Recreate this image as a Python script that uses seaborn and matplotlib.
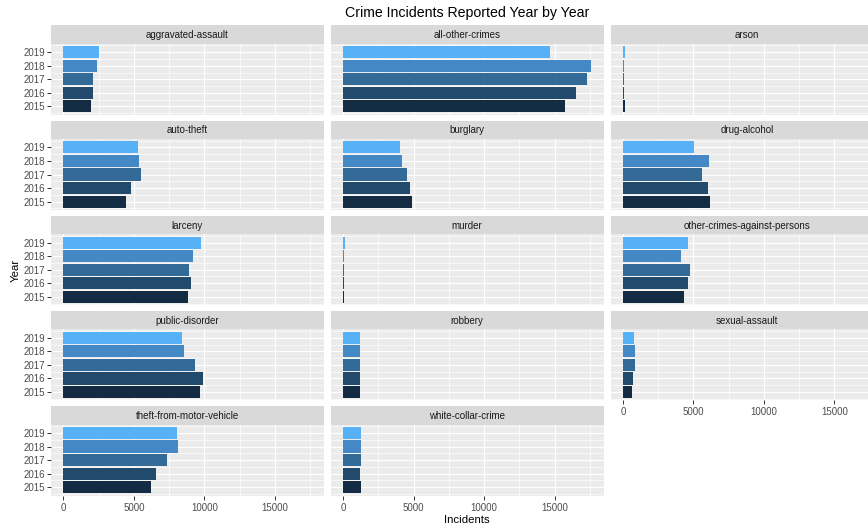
import matplotlib
matplotlib.use("Agg")
import matplotlib.pyplot as plt
import seaborn as sns
import pandas as pd
from matplotlib.ticker import FixedLocator

years = [2015, 2016, 2017, 2018, 2019]
categories = [
    "aggravated-assault", "all-other-crimes", "arson",
    "auto-theft", "burglary", "drug-alcohol",
    "larceny", "murder", "other-crimes-against-persons",
    "public-disorder", "robbery", "sexual-assault",
    "theft-from-motor-vehicle", "white-collar-crime",
]
aggravated_assault = [1940, 2130, 2080, 2390, 2500]
all_other_crimes = [15710, 16490, 17270, 17600, 14690]
arson = [130, 60, 100, 100, 120]
auto_theft = [4470, 4800, 5500, 5360, 5290]
burglary = [4860, 4710, 4500, 4170, 4050]
drug_alcohol = [6150, 6030, 5630, 6100, 5030]
larceny = [8840, 9060, 8940, 9220, 9790]
murder = [60, 70, 80, 80, 120]
other_crimes_against_persons = [4350, 4630, 4770, 4090, 4630]
public_disorder = [9720, 9880, 9310, 8530, 8390]
robbery = [1230, 1190, 1230, 1230, 1190]
sexual_assault = [650, 720, 840, 840, 770]
theft_from_motor_vehicle = [6210, 6550, 7350, 8130, 8060]
white_collar_crime = [1260, 1230, 1280, 1260, 1300]

series = [aggravated_assault, all_other_crimes, arson, auto_theft, burglary,
          drug_alcohol, larceny, murder, other_crimes_against_persons,
          public_disorder, robbery, sexual_assault, theft_from_motor_vehicle,
          white_collar_crime]

rows = []
for cat, vals in zip(categories, series):
    for y, v in zip(years, vals):
        rows.append({"Category": cat, "Year": y, "Incidents": v})
df = pd.DataFrame(rows)

year_colors = {2015: "#132B43", 2016: "#224A6D", 2017: "#336A98", 2018: "#4489C6", 2019: "#56B1F7"}

sns.set_theme(style="white")
plt.rcParams["font.family"] = ["Liberation Sans", "DejaVu Sans"]

W, H = 868, 529
fig = plt.figure(figsize=(W / 100, H / 100), dpi=100)

col_left = [51, 330.7, 610.5]
panel_w = 273
strip_h = 18.5
panel_h = 71
row_pitch = 95.2
top0 = 25.3

M = df["Incidents"].max()
xlo, xhi = -0.05 * M, 1.05 * M
ylo, yhi = 2014.38, 2019.62

n = len(categories)
for i, cat in enumerate(categories):
    r, c = divmod(i, 3)
    st = top0 + row_pitch * r
    pt = st + strip_h
    ax = fig.add_axes([col_left[c] / W, 1 - (pt + panel_h) / H, panel_w / W, panel_h / H])
    sax = fig.add_axes([col_left[c] / W, 1 - (st + strip_h) / H, panel_w / W, strip_h / H])
    sax.set_facecolor("#D9D9D9")
    sax.set_xticks([]); sax.set_yticks([])
    for s in sax.spines.values():
        s.set_visible(False)
    sax.text(0.5, 0.47, cat, ha="center", va="center", fontsize=7, color="#1A1A1A",
             transform=sax.transAxes)

    sub = df[df["Category"] == cat]
    ax.set_facecolor("#EBEBEB")
    ax.set_axisbelow(True)
    sns.barplot(data=sub, x="Incidents", y="Year", hue="Year", palette=year_colors,
                orient="h", native_scale=True, width=0.9, dodge=False,
                errorbar=None, legend=False, saturation=1, linewidth=0, ax=ax)
    ax.set_xlim(xlo, xhi)
    ax.set_ylim(ylo, yhi)
    ax.xaxis.set_major_locator(FixedLocator([0, 5000, 10000, 15000]))
    ax.xaxis.set_minor_locator(FixedLocator([2500, 7500, 12500, 17500]))
    ax.yaxis.set_major_locator(FixedLocator(years))
    ax.yaxis.set_minor_locator(FixedLocator([2014.5, 2015.5, 2016.5, 2017.5, 2018.5, 2019.5]))
    ax.grid(which="major", color="white", linewidth=0.85)
    ax.grid(which="minor", color="white", linewidth=0.45)
    for s in ax.spines.values():
        s.set_visible(False)
    ax.set_xlabel("")
    ax.set_ylabel("")
    ax.tick_params(which="minor", length=0)
    show_y = (c == 0)
    show_x = (i >= n - 3)
    ax.tick_params(axis="y", which="major", left=show_y, labelleft=show_y, length=2.6,
                   width=0.7, color="#333333", labelsize=7, labelcolor="#4D4D4D", pad=1.5)
    ax.tick_params(axis="x", which="major", bottom=show_x, labelbottom=show_x, length=2.6,
                   width=0.7, color="#333333", labelsize=7, labelcolor="#4D4D4D", pad=2.5)
    if show_y:
        ax.set_yticklabels([str(y) for y in years])
    if show_x:
        ax.set_xticklabels(["0", "5000", "10000", "15000"])

fig.text(467 / W, 1 - 12.5 / H, "Crime Incidents Reported Year by Year", ha="center",
         va="center", fontsize=10.2, color="black")
fig.text(466.7 / W, 1 - 520 / H, "Incidents", ha="center", va="center", fontsize=8.2,
         color="black")
fig.text(15.5 / W, 1 - 270 / H, "Year", ha="center", va="center", rotation=90,
         fontsize=8.2, color="black")

fig.savefig("out.png", dpi=100, facecolor="white")
